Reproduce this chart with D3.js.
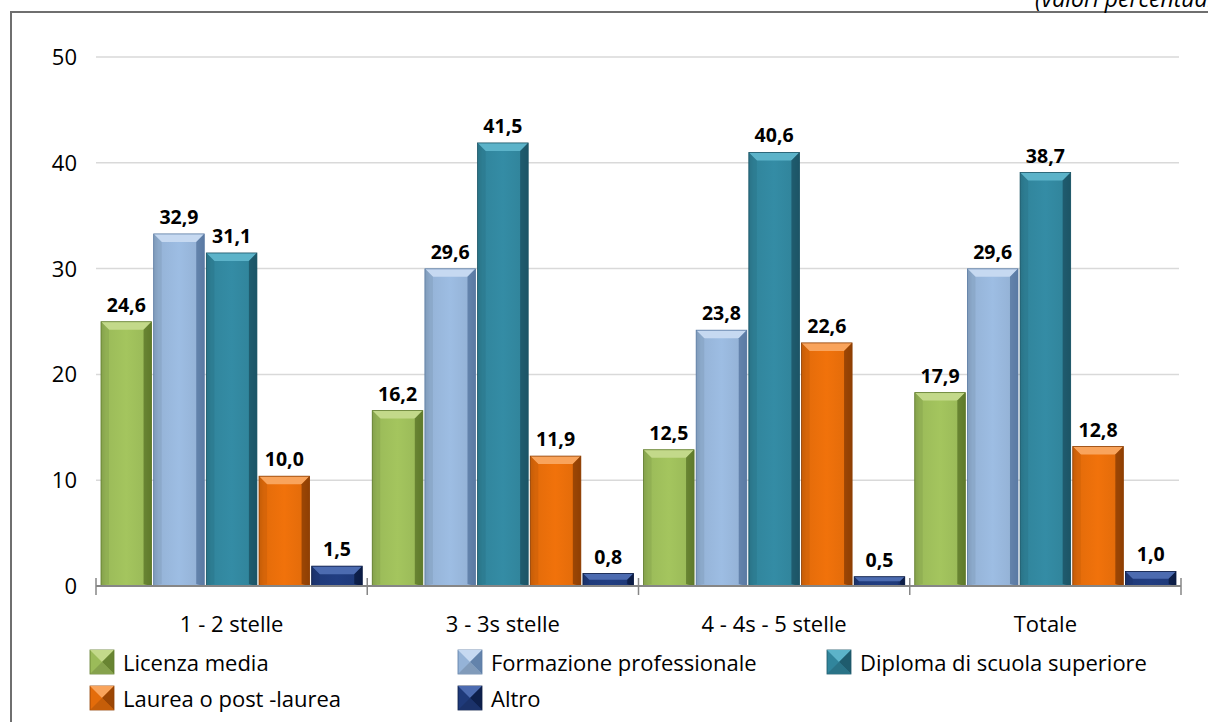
<!DOCTYPE html>
<html><head><meta charset="utf-8">
<script src="https://cdn.jsdelivr.net/npm/d3@7"></script>
<style>body{margin:0;background:#fff;}svg{display:block;font-family:"Open Sans","Noto Sans",sans-serif;}</style>
</head><body><svg id="c" width="1208" height="722"></svg>
<script>
const categories = ["1 - 2 stelle","3 - 3s stelle","4 - 4s - 5 stelle","Totale"];
const seriesNames = ["Licenza media","Formazione professionale","Diploma di scuola superiore","Laurea o post -laurea","Altro"];
const licenza = [24.6,16.2,12.5,17.9];
const formazione = [32.9,29.6,23.8,29.6];
const diploma = [31.1,41.5,40.6,38.7];
const laurea = [10.0,11.9,22.6,12.8];
const altro = [1.5,0.8,0.5,1.0];
const yTicks = [0,10,20,30,40,50];
const colors = ["#9bbb59","#95b3d7","#31859c","#e46c0a","#1f3a7a"];
const lightC = ["#c3d98a","#c6d9f1","#5cb3c9","#f9a45c","#4c6bb0"];
const darkC = ["#5f7a2c","#5a7aa3","#1c5566","#8f4004","#0c1c44"];

const seriesVals = [licenza,formazione,diploma,laurea,altro];
const svg = d3.select("#c");
const defs = svg.append("defs");
colors.forEach((c,i)=>{
  const g = defs.append("linearGradient").attr("id","g"+i).attr("x1","0").attr("x2","1").attr("y1","0").attr("y2","0");
  g.append("stop").attr("offset","0").attr("stop-color",d3.color(c).darker(0.6));
  g.append("stop").attr("offset","0.1").attr("stop-color",c);
  g.append("stop").attr("offset","0.5").attr("stop-color",d3.color(c).brighter(0.15));
  g.append("stop").attr("offset","0.85").attr("stop-color",c);
  g.append("stop").attr("offset","1").attr("stop-color",darkC[i]);
});

// frame
svg.append("path").attr("d","M11,722 V12 H1208").attr("fill","none").attr("stroke","#6f6f6f").attr("stroke-width",2);
svg.append("text").attr("x",1035).attr("y",7).attr("font-style","italic").attr("font-size",23).attr("fill","#000").text("(valori percentuali)");

const y = d3.scaleLinear().domain([0,50]).range([586,57]);
const x0 = d3.scaleBand().domain(categories).range([96,1181]).paddingInner(0).paddingOuter(0);
const x1 = d3.scaleBand().domain(d3.range(5)).range([5,x0.bandwidth()-5]).paddingInner(0.04).paddingOuter(0);
const lift = 4; // bevel cap drawn above the value, as in the original

// grid
svg.append("g").selectAll("line").data(yTicks.filter(t=>t>0)).join("line")
  .attr("x1",96).attr("x2",1179).attr("y1",d=>y(d)).attr("y2",d=>y(d)).attr("stroke","#d9d9d9").attr("stroke-width",1.5);
svg.append("g").selectAll("text").data(yTicks).join("text")
  .attr("x",77).attr("y",d=>y(d)+8).attr("text-anchor","end").attr("font-size",22).attr("fill","#000").text(d=>d);

// bars
const bw = x1.bandwidth();
categories.forEach((cat,ci)=>{
  seriesVals.forEach((vals,si)=>{
    const v = vals[ci];
    const bx = x0(cat)+x1(si), by = y(v)-lift, bh = y(0)-by;
    const g = svg.append("g");
    g.append("rect").attr("x",bx).attr("y",by).attr("width",bw).attr("height",bh).attr("fill",`url(#g${si})`);
    const b = Math.min(8, bh/2);
    g.append("path").attr("d",`M${bx},${by} H${bx+bw} L${bx+bw-b},${by+b} H${bx+b} Z`).attr("fill",lightC[si]);
    g.append("path").attr("d",`M${bx},${by} L${bx+b},${by+b} V${by+bh-2} L${bx},${by+bh} Z`).attr("fill",d3.color(colors[si]).darker(0.3)).attr("opacity",0.6);
    g.append("path").attr("d",`M${bx+bw},${by} L${bx+bw-b},${by+b} V${by+bh-2} L${bx+bw},${by+bh} Z`).attr("fill",darkC[si]).attr("opacity",0.85);
    g.append("rect").attr("x",bx).attr("y",by).attr("width",bw).attr("height",bh).attr("fill","none").attr("stroke",darkC[si]).attr("stroke-width",0.8);
    svg.append("text").attr("x",bx+bw/2).attr("y",by-10).attr("text-anchor","middle")
      .attr("font-size",19.5).attr("font-weight","bold").attr("fill","#000").text(d3.format(".1f")(v).replace(".",","));
  });
});

// x axis
svg.append("line").attr("x1",96).attr("x2",1181).attr("y1",586).attr("y2",586).attr("stroke","#868686").attr("stroke-width",2);
const bounds = categories.map(c=>x0(c)).concat([x0(categories[3])+x0.bandwidth()]);
svg.append("g").selectAll("line").data(bounds).join("line")
  .attr("x1",d=>d).attr("x2",d=>d).attr("y1",578).attr("y2",595).attr("stroke","#868686").attr("stroke-width",1.5);
svg.append("g").selectAll("text").data(categories).join("text")
  .attr("x",d=>x0(d)+x0.bandwidth()/2).attr("y",632).attr("text-anchor","middle").attr("font-size",22).attr("fill","#000").text(d=>d);

// legend
const legPos = [[90,662],[458,662],[827,662],[90,698],[458,698]];
seriesNames.forEach((n,i)=>{
  const [lx,ly] = legPos[i];
  const s = 24, g = svg.append("g");
  g.append("rect").attr("x",lx).attr("y",ly-s/2).attr("width",s).attr("height",s).attr("fill",colors[i]).attr("stroke",darkC[i]).attr("stroke-width",0.8);
  g.append("path").attr("d",`M${lx},${ly-s/2} H${lx+s} L${lx+s/2},${ly} Z`).attr("fill",lightC[i]);
  g.append("path").attr("d",`M${lx+s},${ly-s/2} V${ly+s/2} L${lx+s/2},${ly} Z`).attr("fill",darkC[i]).attr("opacity",0.85);
  g.append("path").attr("d",`M${lx},${ly+s/2} H${lx+s} L${lx+s/2},${ly} Z`).attr("fill",d3.color(colors[i]).darker(0.4));
  svg.append("text").attr("x",lx+33).attr("y",ly+9).attr("font-size",22).attr("fill","#000").text(n);
});
</script></body></html>
